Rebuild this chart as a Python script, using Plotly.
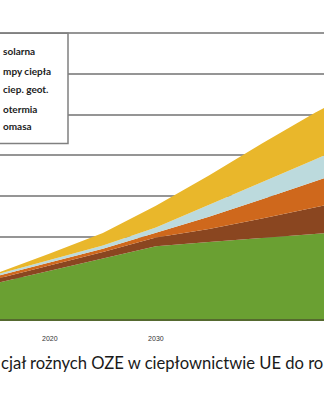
import plotly.graph_objects as go

years = [2015, 2020, 2025, 2030, 2035, 2040, 2045, 2050]
biomasa = [0.88, 1.18, 1.47, 1.78, 1.88, 1.98, 2.08, 2.18]
geotermia = [0.10, 0.13, 0.17, 0.21, 0.32, 0.48, 0.65, 0.82]
sieci_geot = [0.07, 0.08, 0.08, 0.12, 0.30, 0.47, 0.64, 0.80]
pompy = [0.04, 0.06, 0.08, 0.13, 0.29, 0.42, 0.53, 0.66]
solarna = [0.03, 0.15, 0.30, 0.53, 0.72, 0.94, 1.14, 1.28]

series = [
    ("Biomasa", biomasa, "#6aa032"),
    ("Geotermia", geotermia, "#8a4620"),
    ("Sieci ciep. geot.", sieci_geot, "#cf681c"),
    ("Pompy ciepła", pompy, "#bcdadd"),
    ("Energia solarna", solarna, "#e9b72b"),
]

legend_fragments = ["solarna", "mpy ciepła", "ciep. geot.", "otermia", "omasa"]
caption = "cjał rożnych OZE w ciepłownictwie UE do ro"
tick_years = [2020, 2030]

W, H = 324, 400
fig = go.Figure()
for name, vals, col in series:
    fig.add_trace(go.Scatter(
        x=years, y=vals, name=name, stackgroup="one", mode="lines",
        line=dict(width=0, color=col), fillcolor=col, showlegend=False,
        hoverinfo="skip"))

y_bottom_px = 319
px_per_unit = 40.9
y_max = 7.5
dom_bot = (H - y_bottom_px) / H
dom_top = (H - (y_bottom_px - y_max * px_per_unit)) / H

fig.update_layout(
    width=W, height=H,
    margin=dict(l=0, r=0, t=0, b=0),
    paper_bgcolor="white", plot_bgcolor="white",
    showlegend=False,
    xaxis=dict(range=[2015.3, 2045.85], tickvals=tick_years,
               ticktext=[str(t) for t in tick_years],
               ticks="outside", ticklen=12, tickcolor="rgba(0,0,0,0)",
               tickfont=dict(family="Liberation Sans", size=7, color="#333"),
               showgrid=False, zeroline=False,
               showline=True, linecolor="#55692f", linewidth=1.5),
    yaxis=dict(range=[0, y_max], domain=[dom_bot, dom_top], dtick=1,
               showticklabels=False, showgrid=True,
               gridcolor="#959595", gridwidth=1.6, zeroline=False,
               showline=False),
)

def py(p):
    return (H - p) / H

# legend box (cropped on the left)
fig.add_shape(type="rect", xref="paper", yref="paper",
              x0=-0.05, x1=68 / W, y0=py(143.5), y1=py(33.3),
              line=dict(color="#808080", width=1.5), fillcolor="white",
              layer="above")

leg_y = [50.7, 71, 89, 109, 125.7]
for txt, yy in zip(legend_fragments, leg_y):
    fig.add_annotation(xref="paper", yref="paper", x=0.5 / W, y=py(yy),
                       xanchor="left", yanchor="middle", text="<b>" + txt + "</b>",
                       showarrow=False,
                       font=dict(family="Lato", size=10, color="#222"))

fig.add_annotation(xref="paper", yref="paper", x=0.5, y=py(363),
                   xanchor="center", yanchor="middle", text=caption,
                   showarrow=False,
                   font=dict(family="Lato", size=16.6, color="#1a1a1a"))

fig.write_html("out.html")
